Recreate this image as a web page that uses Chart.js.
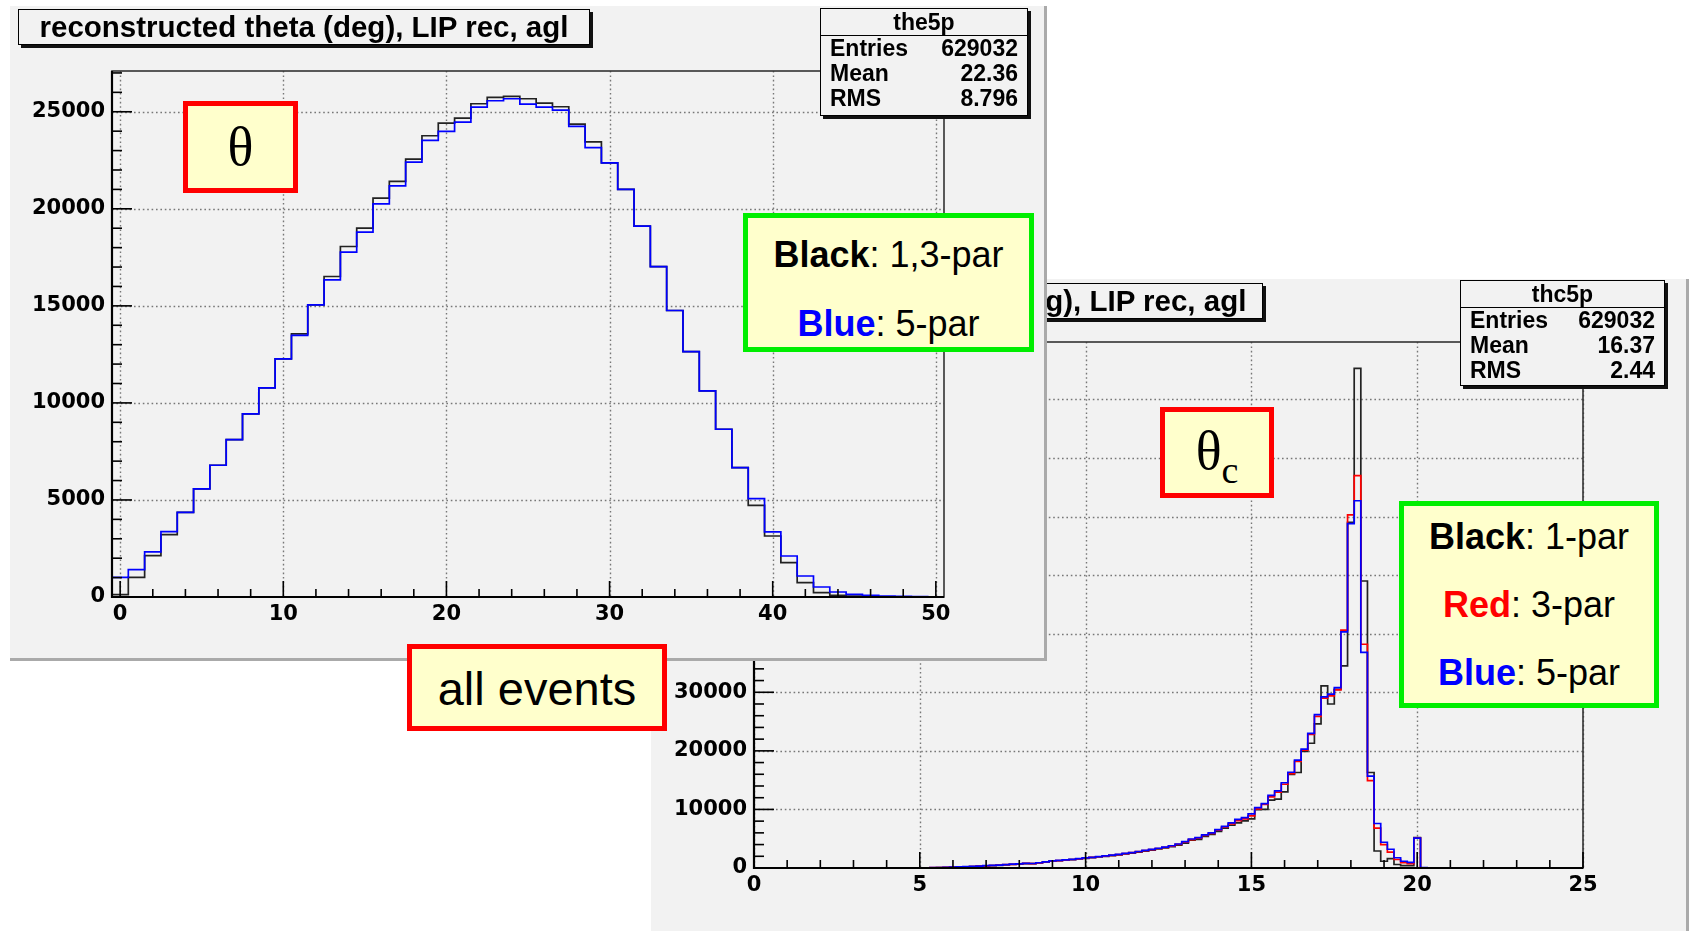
<!DOCTYPE html>
<html><head><meta charset="utf-8">
<script src="https://cdn.jsdelivr.net/npm/chart.js@4.4.1/dist/chart.umd.min.js"></script>
<style>
body{margin:0;width:1689px;height:931px;background:#fff;position:relative;overflow:hidden;font-family:"Liberation Sans",Arial,sans-serif;}
.panel{position:absolute;background:#f2f2f2;box-sizing:content-box;}
#pR{left:651px;top:279px;width:1035px;height:652px;border-right:3px solid #aaa;z-index:1;}
#pL{left:10px;top:6px;width:1034px;height:652px;border-right:3px solid #aaa;border-bottom:3px solid #aaa;z-index:10;}
canvas{position:absolute;left:0;top:0;}
.tbox{position:absolute;box-sizing:border-box;border:1.5px solid #000;box-shadow:3px 3px 0 #111;background:#f2f2f2;font-weight:bold;font-size:29.5px;line-height:33px;white-space:nowrap;overflow:hidden;z-index:5;}
.stats{position:absolute;box-sizing:border-box;border:1.5px solid #000;box-shadow:3px 3px 0 #111;background:#f2f2f2;font-weight:bold;font-size:23px;z-index:5;}
.stats .hd{height:26px;line-height:26px;text-align:center;border-bottom:1.5px solid #000;}
.stats .row{height:25px;line-height:25px;padding:0 9px 0 9px;display:flex;justify-content:space-between;}
.lab{position:absolute;box-sizing:border-box;background:#ffffcc;z-index:6;}
.red{border:5px solid #ff0000;}
.grn{border:5px solid #00ee00;}
.lab .ln{position:absolute;left:0;width:100%;height:44px;line-height:44px;text-align:center;font-size:36px;white-space:nowrap;}
.sym{font-family:"Liberation Serif","DejaVu Serif",serif;font-size:54px;text-align:center;}
</style></head>
<body>
<div class="panel" id="pR">
  <canvas id="cR" width="1035" height="652"></canvas>
  <div class="tbox" style="left:49px;top:4px;width:563px;height:36px;text-align:right;padding-right:20px;">reconstructed thetac (deg), LIP rec, agl</div>
  <div class="stats" style="left:809px;top:1px;width:205px;height:106px;">
    <div class="hd">thc5p</div>
    <div class="row"><span>Entries</span><span>629032</span></div>
    <div class="row"><span>Mean</span><span>16.37</span></div>
    <div class="row"><span>RMS</span><span>2.44</span></div>
  </div>
  <div class="lab red sym" style="left:509px;top:128px;width:114px;height:91px;line-height:78px;">θ<span style="font-size:38px;vertical-align:-14px;">c</span></div>
  <div class="lab grn" style="left:748px;top:222px;width:260px;height:207px;">
    <div class="ln" style="top:9px;"><b>Black</b>: 1-par</div>
    <div class="ln" style="top:77px;"><b style="color:#ff0000">Red</b>: 3-par</div>
    <div class="ln" style="top:145px;"><b style="color:#0000ff">Blue</b>: 5-par</div>
  </div>
</div>
<div class="panel" id="pL">
  <canvas id="cL" width="1034" height="652"></canvas>
  <div class="tbox" style="left:8px;top:3px;width:572px;height:36px;text-align:center;">reconstructed theta (deg), LIP rec, agl</div>
  <div class="stats" style="left:810px;top:2px;width:208px;height:108px;">
    <div class="hd">the5p</div>
    <div class="row"><span>Entries</span><span>629032</span></div>
    <div class="row"><span>Mean</span><span>22.36</span></div>
    <div class="row"><span>RMS</span><span>8.796</span></div>
  </div>
  <div class="lab red sym" style="left:173px;top:95px;width:115px;height:92px;line-height:82px;">θ</div>
  <div class="lab grn" style="left:733px;top:207px;width:291px;height:139px;">
    <div class="ln" style="top:15px;"><b>Black</b>: 1,3-par</div>
    <div class="ln" style="top:84px;"><b style="color:#0000ff">Blue</b>: 5-par</div>
  </div>
</div>
<div class="lab red" style="left:407px;top:644px;width:260px;height:87px;z-index:20;">
  <div style="position:absolute;left:0;width:100%;top:12px;text-align:center;font-size:47px;line-height:56px;">all events</div>
</div>
<script>
// ---------- left histogram: reconstructed theta (deg), bins of width 1 centred on 0..50
const thetaFirstCenter = 0;
const thetaBinWidth = 1;
const thetaBlack = [120,1014,2131,3213,4364,5567,6787,8110,9433,10773,
  12268,13560,15051,16512,18058,19003,20550,21409,22560,23763,
  24416,24674,25412,25739,25790,25670,25447,25259,24362,23448,
  22362,21000,19103,17017,14760,12640,10619,8643,6667,4725,
  3144,1770,739,223,86,50,10,0,0,0,0];
const thetaBlue = [1014,1409,2320,3368,4364,5567,6787,8110,9433,10773,
  12268,13480,15051,16340,17766,18797,20258,21186,22405,23522,
  23986,24467,25240,25567,25670,25395,25240,25086,24250,23155,
  22362,21000,19103,17017,14760,12640,10619,8643,6667,5069,
  3351,2113,1082,515,258,137,86,50,30,20,10];
const thetaXTicks = [0,10,20,30,40,50];
const thetaYTicks = [0,5000,10000,15000,20000,25000];

// ---------- right histogram: reconstructed theta_c (deg), bins of width 0.2 centred on 0.0..25.0
const thcFirstCenter = 0;
const thcBinWidth = 0.2;
const thcBlack = [0,0,0,0,0,0,0,0,0,0, 0,0,0,0,0,0,0,0,0,0, 0,0,0,5,10,15,25,40,60,80,
  110,140,180,230,280,340,400,460,530,600,
  670,760,740,850,1000,1150,1240,1330,1420,1540,
  1660,1770,1880,1990,2120,2250,2390,2550,2720,2890,
  3060,3250,3440,3650,3920,4250,4750,4900,5400,5750,
  6250,6800,7300,7700,8050,8400,9950,10000,11600,11750,
  13000,16000,16300,19900,21300,24600,31100,28000,30500,34500,
  59000,85300,49000,16300,2900,1150,1600,600,400,400,
  5200,30,10,0,0,0,0,0,0,0, 0,0,0,0,0,0,0,0,0,0, 0,0,0,0,0,0];
const thcRed = [0,0,0,0,0,0,0,0,0,0, 0,0,0,0,0,0,0,0,0,0, 0,0,5,10,15,25,35,55,75,100,
  135,170,215,260,310,370,430,490,560,630,
  700,790,760,880,1030,1180,1270,1360,1450,1570,
  1700,1810,1920,2030,2170,2300,2450,2610,2790,2960,
  3140,3330,3530,3750,4020,4400,4850,5100,5550,5900,
  6450,7000,7550,8100,8400,8900,10100,10850,12150,12950,
  14300,16100,18200,20100,22800,25900,29000,29400,30400,40600,
  60300,67000,38200,14900,6800,4000,2700,1450,900,750,
  5100,40,20,0,0,0,0,0,0,0, 0,0,0,0,0,0,0,0,0,0, 0,0,0,0,0,0];
const thcBlue = [0,0,0,0,0,0,0,0,0,0, 0,0,0,0,0,0,0,0,0,0, 0,0,10,15,20,30,40,60,80,110,
  145,180,225,275,330,390,445,505,575,645,
  715,800,770,900,1050,1200,1290,1380,1470,1600,
  1720,1830,1950,2060,2200,2330,2480,2640,2820,3000,
  3180,3370,3570,3800,4100,4500,4950,5200,5650,6000,
  6550,7100,7700,8300,8600,9250,10300,11000,12400,13150,
  14550,16350,18400,20300,23000,26200,29200,29700,30800,40300,
  58800,62700,36800,15700,7600,4400,3200,1750,1150,950,
  5100,60,30,0,0,0,0,0,0,0, 0,0,0,0,0,0,0,0,0,0, 0,0,0,0,0,0];
const thcXTicks = [0,5,10,15,20,25];
const thcYTicks = [0,10000,20000,30000,40000,50000,60000,70000,80000];

// histogram outline points (bin edges) for a stepped line
function stepPoints(values, firstCenter, width){
  const e0 = firstCenter - width/2;
  const pts = [{x:e0, y:0}];
  values.forEach((v,i)=>pts.push({x:e0 + i*width, y:v}));
  const eN = e0 + values.length*width;
  pts.push({x:eN, y:values[values.length-1]});
  pts.push({x:eN, y:0});
  return pts;
}

const tickFont = {family:'"DejaVu Sans", "Liberation Sans", sans-serif', weight:'bold', size:21};

function rootFrame(o){
  return {
    id:'rootFrame',
    beforeDatasetsDraw(chart){
      const {ctx, chartArea:a} = chart; const x = chart.scales.x, y = chart.scales.y;
      ctx.save();
      ctx.strokeStyle = '#777'; ctx.lineWidth = 1.4; ctx.setLineDash([1.6,2.8]);
      o.xTicks.forEach(v=>{ const px = Math.round(x.getPixelForValue(v))+0.5;
        ctx.beginPath(); ctx.moveTo(px,a.top); ctx.lineTo(px,a.bottom); ctx.stroke(); });
      o.yTicks.forEach(v=>{ if(v===0) return; const py = Math.round(y.getPixelForValue(v))+0.5;
        ctx.beginPath(); ctx.moveTo(a.left,py); ctx.lineTo(a.right,py); ctx.stroke(); });
      ctx.restore();
    },
    afterDatasetsDraw(chart){
      const {ctx, chartArea:a} = chart; const x = chart.scales.x, y = chart.scales.y;
      ctx.save();
      ctx.setLineDash([]);
      ctx.strokeStyle = '#333'; ctx.lineWidth = 1.6;
      ctx.strokeRect(a.left, a.top, a.right-a.left, a.bottom-a.top);
      ctx.strokeStyle = '#000'; ctx.lineWidth = 2.2;
      ctx.beginPath(); ctx.moveTo(a.left, a.top); ctx.lineTo(a.left, a.bottom); ctx.lineTo(a.right, a.bottom); ctx.stroke();
      ctx.lineWidth = 1.6;
      for(let v=o.xMinorStart; v<=o.xMax+1e-9; v+=o.xMinor){
        const major = o.xTicks.some(t=>Math.abs(t-v)<1e-6);
        const px = x.getPixelForValue(v);
        ctx.beginPath(); ctx.moveTo(px, a.bottom); ctx.lineTo(px, a.bottom-(major?16:8)); ctx.stroke();
      }
      for(let v=0; v<=o.yMax+1e-9; v+=o.yMinor){
        const major = o.yTicks.some(t=>Math.abs(t-v)<1e-6);
        const py = y.getPixelForValue(v);
        ctx.beginPath(); ctx.moveTo(a.left, py); ctx.lineTo(a.left+(major?20:10), py); ctx.stroke();
      }
      ctx.restore();
    }
  };
}

function makeChart(id, datasets, o){
  return new Chart(document.getElementById(id), {
    type:'line',
    data:{datasets},
    options:{
      responsive:false, animation:false, devicePixelRatio:1,
      layout:{padding:{left:0, top:o.top, right:o.right, bottom:0}},
      plugins:{legend:{display:false}, tooltip:{enabled:false}},
      elements:{point:{radius:0}, line:{tension:0}},
      scales:{
        x:{type:'linear', min:o.xMin, max:o.xMax, grid:{display:false, drawTicks:false}, border:{display:false},
          afterBuildTicks:s=>{ s.ticks = o.xTicks.map(v=>({value:v})); },
          afterFit:s=>{ s.height = o.xH; },
          ticks:{font:tickFont, color:'#000', padding:o.xPad, maxRotation:0, autoSkip:false, callback:v=>String(v)}},
        y:{type:'linear', min:0, max:o.yMax, grid:{display:false, drawTicks:false}, border:{display:false},
          afterBuildTicks:s=>{ s.ticks = o.yTicks.map(v=>({value:v})); },
          afterFit:s=>{ s.width = o.yW; },
          ticks:{font:tickFont, color:'#000', padding:7, autoSkip:false, callback:v=>String(v)}}
      }
    },
    plugins:[rootFrame(o)]
  });
}

function ds(values, first, width, color){
  return {data:stepPoints(values, first, width), borderColor:color, borderWidth:1.7,
          stepped:true, fill:false, pointRadius:0};
}

makeChart('cR', [
  ds(thcBlue, thcFirstCenter, thcBinWidth, '#0000ff'),
  ds(thcRed, thcFirstCenter, thcBinWidth, '#ff0000'),
  ds(thcBlack, thcFirstCenter, thcBinWidth, '#222222')
], {xMin:0, xMax:25, yMax:89800, xTicks:thcXTicks, yTicks:thcYTicks,
    xMinor:1, xMinorStart:0, yMinor:2000, top:63, right:103, yW:103, xH:63, xPad:5});

makeChart('cL', [
  ds(thetaBlue, thetaFirstCenter, thetaBinWidth, '#0000ff'),
  ds(thetaBlack, thetaFirstCenter, thetaBinWidth, '#222222')
], {xMin:-0.5, xMax:50.5, yMax:27100, xTicks:thetaXTicks, yTicks:thetaYTicks,
    xMinor:2, xMinorStart:0, yMinor:1000, top:65, right:100, yW:102, xH:61, xPad:5});
</script>
</body></html>
